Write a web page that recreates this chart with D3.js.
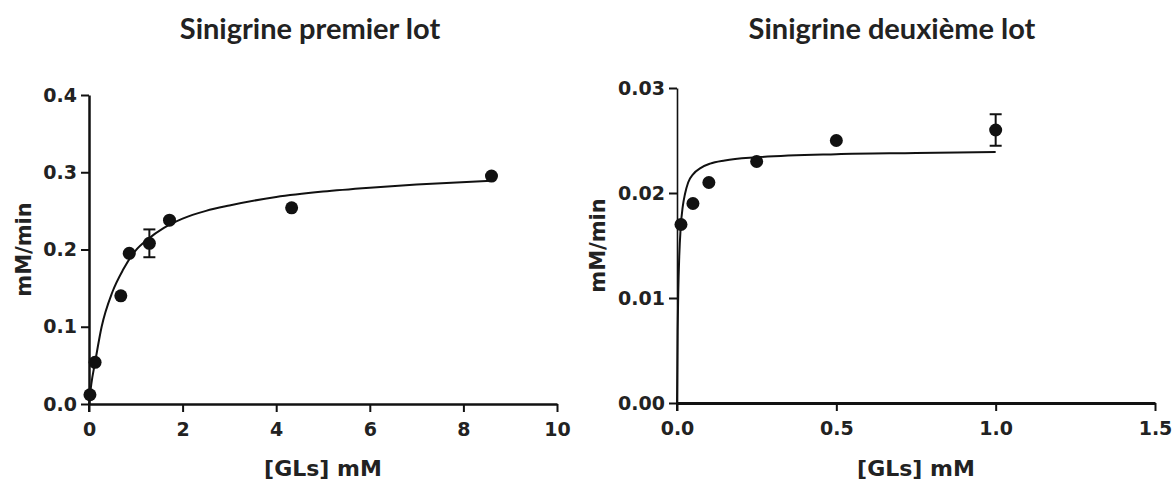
<!DOCTYPE html>
<html>
<head>
<meta charset="utf-8">
<script src="https://cdn.jsdelivr.net/npm/d3@7"></script>
<style>
  html, body { margin: 0; padding: 0; background: #fff; }
  svg { display: block; }
  .tick text { font-family: "DejaVu Sans", sans-serif; font-weight: bold; fill: #222; }
</style>
</head>
<body>
<svg id="chart" width="1172" height="483"></svg>
<script>
// ---------- data ----------
const titles = ["Sinigrine premier lot", "Sinigrine deuxième lot"];
const xTitle = "[GLs] mM";
const yTitle = "mM/min";

// Panel 1
const lot1X   = [0.02, 0.13, 0.68, 0.86, 1.29, 1.72, 4.33, 8.6];
const lot1Y   = [0.012, 0.054, 0.14, 0.195, 0.208, 0.238, 0.254, 0.295];
const lot1Err = [0, 0, 0, 0, 0.018, 0, 0, 0];
const lot1FitX = [0, 0.05, 0.13, 0.27, 0.5, 0.73, 1.0, 1.25, 1.6, 2.0, 2.5, 3.0, 4.0, 5.0, 6.0, 7.0, 8.6];
const lot1FitY = [0, 0.026, 0.054, 0.100, 0.145, 0.174, 0.199, 0.213, 0.228, 0.240, 0.250, 0.257, 0.268, 0.275, 0.280, 0.284, 0.289];
const lot1XTicks = [0, 2, 4, 6, 8, 10];
const lot1YTicks = [0, 0.1, 0.2, 0.3, 0.4];

// Panel 2
const lot2X   = [0.0125, 0.05, 0.1, 0.25, 0.5, 1.0];
const lot2Y   = [0.0170, 0.0190, 0.0210, 0.0230, 0.0250, 0.0260];
const lot2Err = [0, 0, 0, 0, 0, 0.0015];
const lot2FitX = [0, 0.002, 0.004, 0.007, 0.0115, 0.018, 0.025, 0.035, 0.051, 0.075, 0.104, 0.15, 0.25, 0.5, 0.75, 1.0];
const lot2FitY = [0, 0.0068, 0.0106, 0.0139, 0.0167, 0.0187, 0.0199, 0.0210, 0.0218, 0.0224, 0.0228, 0.0231, 0.0234, 0.0237, 0.0238, 0.0239];
const lot2XTicks = [0, 0.5, 1.0, 1.5];
const lot2YTicks = [0, 0.01, 0.02, 0.03];

// ---------- drawing ----------
const svg = d3.select("#chart");
const ink = "#111";

function panel(cfg) {
  const x = d3.scaleLinear().domain(cfg.xDomain).range(cfg.xRange);
  const y = d3.scaleLinear().domain(cfg.yDomain).range(cfg.yRange);
  const g = svg.append("g");

  // axes
  const xAxis = d3.axisBottom(x).tickValues(cfg.xTicks).tickFormat(cfg.xFmt)
    .tickSize(8).tickSizeOuter(0).tickPadding(10);
  const yAxis = d3.axisLeft(y).tickValues(cfg.yTicks).tickFormat(cfg.yFmt)
    .tickSize(8).tickSizeOuter(0).tickPadding(4);

  const gx = g.append("g").attr("transform", `translate(0,${cfg.yRange[0]})`).call(xAxis);
  gx.select(".domain").attr("stroke", ink).attr("stroke-width", cfg.xAxisW);
  gx.selectAll(".tick line").attr("stroke", ink).attr("stroke-width", 2);
  gx.selectAll(".tick text").attr("font-size", 19).attr("dy", "0.75em");

  const gy = g.append("g").attr("transform", `translate(${cfg.xRange[0]},0)`).call(yAxis);
  gy.select(".domain").attr("stroke", ink).attr("stroke-width", cfg.yAxisW);
  gy.selectAll(".tick line").attr("stroke", ink).attr("stroke-width", 2);
  gy.selectAll(".tick text").attr("font-size", 19);

  // extend y-axis down through the x=0 tick (Prism style cross at origin)
  g.append("line")
    .attr("x1", x(cfg.xDomain[0])).attr("x2", x(cfg.xDomain[0]))
    .attr("y1", y(cfg.yDomain[0])).attr("y2", y(cfg.yDomain[0]) + 8)
    .attr("stroke", ink).attr("stroke-width", 2);

  // fitted curve
  const fit = cfg.fitX.map((v, i) => [v, cfg.fitY[i]]);
  g.append("path")
    .datum(fit)
    .attr("fill", "none")
    .attr("stroke", ink)
    .attr("stroke-width", 2)
    .attr("d", d3.line().x(d => x(d[0])).y(d => y(d[1])).curve(d3.curveMonotoneX));

  // data points
  const pts = cfg.px.map((v, i) => ({ x: v, y: cfg.py[i], e: cfg.pe[i] }));
  const eb = g.selectAll(".err").data(pts.filter(d => d.e > 0)).enter().append("g");
  eb.append("line")
    .attr("x1", d => x(d.x)).attr("x2", d => x(d.x))
    .attr("y1", d => y(d.y - d.e)).attr("y2", d => y(d.y + d.e))
    .attr("stroke", ink).attr("stroke-width", 2);
  [-1, 1].forEach(s => {
    eb.append("line")
      .attr("x1", d => x(d.x) - 6).attr("x2", d => x(d.x) + 6)
      .attr("y1", d => y(d.y + s * d.e)).attr("y2", d => y(d.y + s * d.e))
      .attr("stroke", ink).attr("stroke-width", 2);
  });
  g.selectAll(".pt").data(pts).enter().append("circle")
    .attr("cx", d => x(d.x)).attr("cy", d => y(d.y)).attr("r", 6.5)
    .attr("fill", ink);

  // titles
  svg.append("text")
    .attr("x", cfg.titleX).attr("y", 39)
    .attr("text-anchor", "middle")
    .attr("font-family", "Lato, 'Open Sans', sans-serif")
    .attr("font-weight", "bold").attr("font-size", 29)
    .attr("fill", "#222")
    .text(cfg.title);

  svg.append("text")
    .attr("x", (cfg.xRange[0] + cfg.xRange[1]) / 2).attr("y", 476)
    .attr("text-anchor", "middle")
    .attr("font-family", "'DejaVu Sans', sans-serif")
    .attr("font-weight", "bold").attr("font-size", 22)
    .attr("fill", "#222")
    .text(xTitle);

  svg.append("text")
    .attr("transform", `translate(${cfg.yTitleX},${(cfg.yRange[0] + cfg.yRange[1]) / 2}) rotate(-90)`)
    .attr("text-anchor", "middle")
    .attr("font-family", "'DejaVu Sans', sans-serif")
    .attr("font-weight", "bold").attr("font-size", 21)
    .attr("fill", "#222")
    .text(yTitle);
}

panel({
  xDomain: [0, 10], yDomain: [0, 0.4],
  xRange: [89, 557], yRange: [404, 95],
  xTicks: lot1XTicks, yTicks: lot1YTicks,
  xFmt: d3.format("d"), yFmt: d3.format(".1f"),
  px: lot1X, py: lot1Y, pe: lot1Err,
  fitX: lot1FitX, fitY: lot1FitY,
  xAxisW: 2.5, yAxisW: 2.5,
  title: titles[0], titleX: 310, yTitleX: 31
});

panel({
  xDomain: [0, 1.5], yDomain: [0, 0.03],
  xRange: [677, 1155], yRange: [403, 88],
  xTicks: lot2XTicks, yTicks: lot2YTicks,
  xFmt: d3.format(".1f"), yFmt: d3.format(".2f"),
  px: lot2X, py: lot2Y, pe: lot2Err,
  fitX: lot2FitX, fitY: lot2FitY,
  xAxisW: 3, yAxisW: 1.6,
  title: titles[1], titleX: 892, yTitleX: 605
});
</script>
</body>
</html>
